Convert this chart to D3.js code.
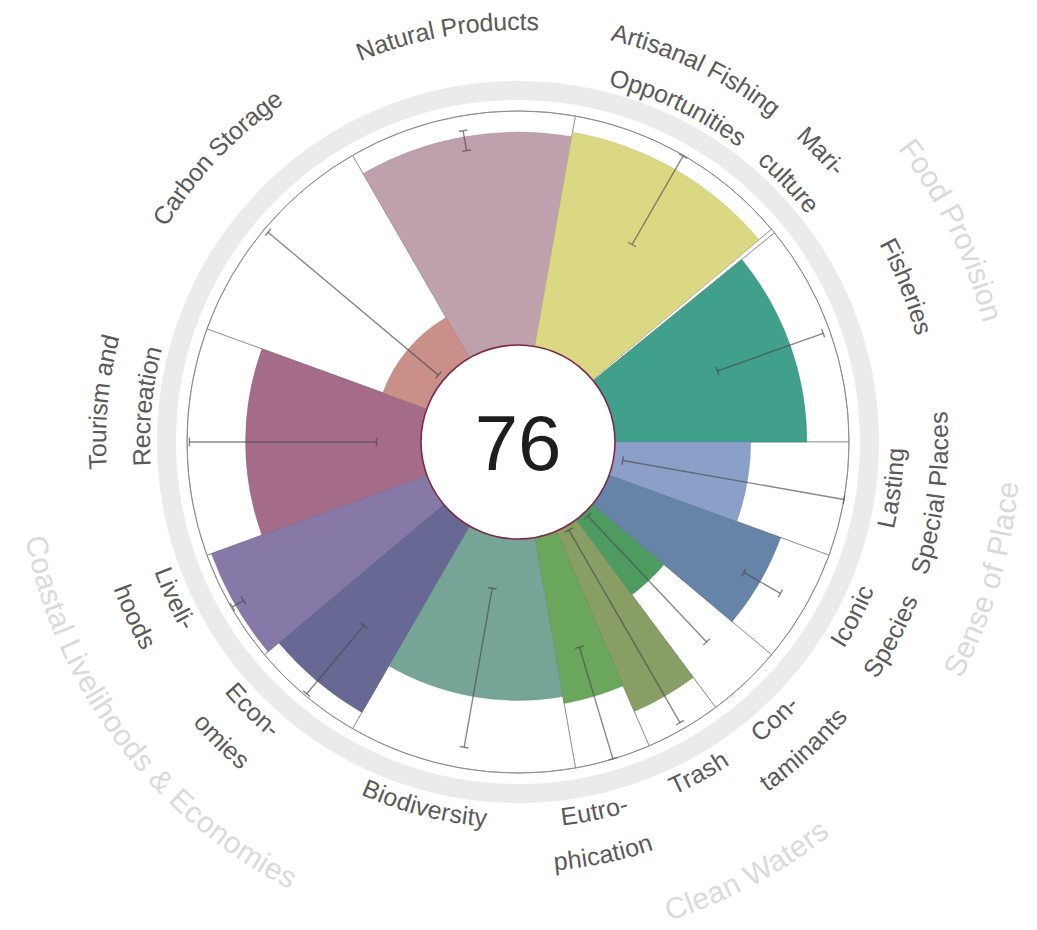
<!DOCTYPE html>
<html>
<head>
<meta charset="utf-8">
<script src="https://cdn.jsdelivr.net/npm/d3@7"></script>
<style>
  html, body { margin: 0; padding: 0; background: #ffffff; }
  svg { display: block; }
  text { font-family: "Liberation Sans", Arial, sans-serif; }
</style>
</head>
<body>
<div id="chart"></div>
<script>
// ---------------- data ----------------
const goals = ["Natural Products", "Artisanal Fishing Opportunities", "Mariculture", "Fisheries",
  "Lasting Special Places", "Iconic Species", "Contaminants", "Trash", "Eutrophication",
  "Biodiversity", "Economies", "Livelihoods", "Tourism and Recreation", "Carbon Storage"];
const labelLines = [["Natural Products"], ["Artisanal Fishing", "Opportunities"], ["Mari-", "culture"],
  ["Fisheries"], ["Lasting", "Special Places"], ["Iconic", "Species"], ["Con-", "taminants"], ["Trash"],
  ["Eutro-", "phication"], ["Biodiversity"], ["Econ-", "omies"], ["Liveli-", "hoods"],
  ["Tourism and", "Recreation"], ["Carbon Storage"]];
const weights = [40, 40, 0.8, 39.2, 20, 20, 13.33, 13.33, 13.34, 40, 20, 20, 40, 40];
const scores = [91, 93, 0, 82, 58, 78, 40, 84, 72, 69, 92, 98, 75, 20];
const lowerValues = [85, 56, null, 49, 4, 70, 2, 2, 50, 22, 61, 94, 19, 3];
const upperValues = [93.6, 99.6, null, 97, 100, 88, 76, 97, 99.8, 91, 99, 99.5, 99, 98];
const colors = ["#bfa1ae", "#dbd883", "#cfd9c4", "#40a08b", "#8ba0c9", "#6683a8", "#4e9b62",
  "#889e64", "#6aa65b", "#76a496", "#686894", "#8679a8", "#a56c89", "#c98f88"];
const overallScore = 76;
const supraGoals = ["Food Provision", "Sense of Place", "Clean Waters", "Coastal Livelihoods & Economies"];
const supraFirst = [2, 4, 6, 10];
const supraLast = [3, 5, 8, 11];

// ---------------- layout ----------------
const W = 1037, H = 930;
const cx = 518, cy = 442;
const r0 = 97, R = 331;
const deg = Math.PI / 180;
// small per-label angular nudges (degrees) to match label placement
const labelNudge = [0.2, -4.5, -4.2, -2.2, -3, -2.5, 0.5, 1.4, 5, 4.4, 4.7, 5.5, 5.5, 3.4];
const supraNudge = [-6, -3.6, 2, 3];

const svg = d3.select("#chart").append("svg").attr("width", W).attr("height", H);
const g = svg.append("g").attr("transform", `translate(${cx},${cy})`);

const rScale = d3.scaleLinear().domain([0, 100]).range([r0, R]);

const pie = d3.pie().sort(null).value(d => d.w)
  .startAngle(-30 * deg).endAngle(330 * deg);
const rows = goals.map((name, i) => ({ name, i, w: weights[i], score: scores[i],
  lo: lowerValues[i], hi: upperValues[i], color: colors[i], lines: labelLines[i] }));
const arcs = pie(rows);

// gray outer ring
g.append("circle").attr("r", 351.5).attr("fill", "none")
  .attr("stroke", "#ebebeb").attr("stroke-width", 19);

// full-score outline wedges
const outlineArc = d3.arc().innerRadius(r0).outerRadius(R);
g.selectAll("path.outline").data(arcs).join("path")
  .attr("class", "outline")
  .attr("d", outlineArc)
  .attr("fill", "#ffffff")
  .attr("stroke", "#8a8a8a").attr("stroke-width", 0.8);

// petals
const petalArc = d3.arc().innerRadius(r0).outerRadius(d => rScale(d.data.score));
g.selectAll("path.petal").data(arcs.filter(d => d.data.score > 0)).join("path")
  .attr("class", "petal")
  .attr("d", petalArc)
  .attr("fill", d => d.data.color)
  .attr("stroke", d => d3.color(d.data.color).darker(0.4))
  .attr("stroke-width", 0.4);

// outer thin circle
g.append("circle").attr("r", R).attr("fill", "none")
  .attr("stroke", "#8a8a8a").attr("stroke-width", 0.9);

// error bars
const pt = (r, a) => [r * Math.sin(a), -r * Math.cos(a)];
const bars = arcs.filter(d => d.data.lo != null);
const capHalf = 4.5;
bars.forEach(d => {
  const a = (d.startAngle + d.endAngle) / 2;
  const r1 = rScale(d.data.lo), r2 = rScale(d.data.hi);
  const p1 = pt(r1, a), p2 = pt(r2, a);
  const eg = g.append("g").attr("stroke", "#4a4a4a").attr("stroke-opacity", 0.65)
    .attr("stroke-width", 1.4).attr("fill", "none");
  eg.append("line").attr("x1", p1[0]).attr("y1", p1[1]).attr("x2", p2[0]).attr("y2", p2[1]);
  [r1, r2].forEach(r => {
    const c = pt(r, a);
    const tx = Math.cos(a) * capHalf, ty = Math.sin(a) * capHalf;
    eg.append("line").attr("x1", c[0] - tx).attr("y1", c[1] - ty)
      .attr("x2", c[0] + tx).attr("y2", c[1] + ty);
  });
});

// center circle
g.append("circle").attr("r", r0).attr("fill", "#ffffff")
  .attr("stroke", "#7a2b4a").attr("stroke-width", 1.6);
g.append("text").attr("x", 0).attr("y", 0).attr("dy", "0.36em")
  .attr("text-anchor", "middle").attr("font-size", 78).attr("fill", "#1e1e1e")
  .text(overallScore);

// ---------------- curved labels ----------------
const defs = svg.append("defs");
let pid = 0;
function arcLabel(text, angleDeg, r, size, color) {
  let a = ((angleDeg % 360) + 360) % 360;
  const bottom = a > 90.5 && a < 269.5;
  let s, e, sweep;
  if (!bottom) { s = a - 90; e = a + 90; sweep = 1; }
  else { s = a + 90; e = a - 90; sweep = 0; }
  const p0 = pt(r, s * deg), p1 = pt(r, e * deg);
  const id = "lp" + (pid++);
  defs.append("path").attr("id", id)
    .attr("d", `M${cx + p0[0]},${cy + p0[1]} A${r},${r} 0 0 ${sweep} ${cx + p1[0]},${cy + p1[1]}`);
  svg.append("text").attr("font-size", size).attr("fill", color)
    .attr("dominant-baseline", "central")
    .append("textPath").attr("href", "#" + id)
    .attr("startOffset", "50%").attr("text-anchor", "middle")
    .text(text);
  return bottom;
}
function isBottom(angleDeg) {
  const a = ((angleDeg % 360) + 360) % 360;
  return a > 90.5 && a < 269.5;
}

arcs.forEach((d, i) => {
  const mid = (d.startAngle + d.endAngle) / 2 / deg + labelNudge[i];
  const bottom = isBottom(mid);
  d.data.lines.forEach((line, k) => {
    const r = bottom ? 377 + 44 * k : 421 - 44 * k;
    arcLabel(line, mid, r, 25, "#5a5a5a");
  });
});

supraGoals.forEach((name, j) => {
  const a0 = arcs[supraFirst[j]].startAngle, a1 = arcs[supraLast[j]].endAngle;
  const mid = (a0 + a1) / 2 / deg + supraNudge[j];
  arcLabel(name, mid, 491, 30, "#dadada");
});
</script>
</body>
</html>
